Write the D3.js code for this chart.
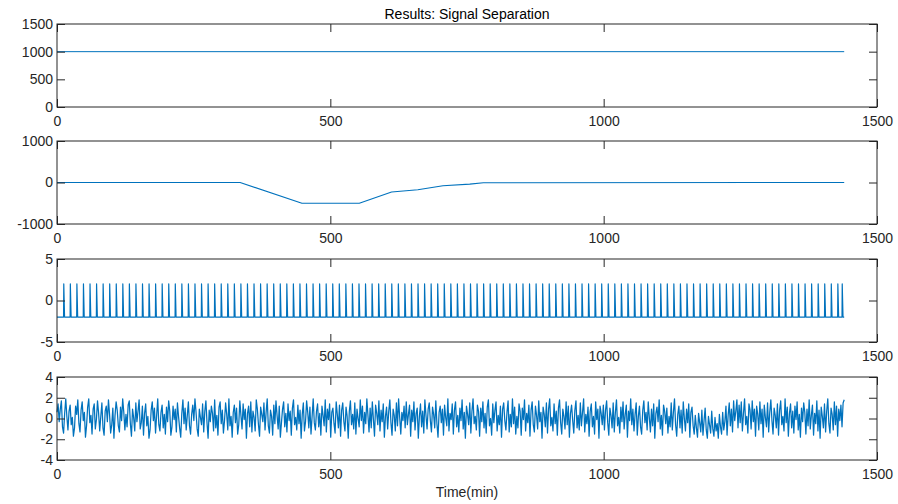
<!DOCTYPE html>
<html>
<head>
<meta charset="utf-8">
<script src="https://cdn.jsdelivr.net/npm/d3@7"></script>
<style>
    body { margin: 0; background: #fff; }
    text { font-family: "Liberation Sans", Arial, sans-serif; }
</style>
</head>
<body>
<div id="chart"></div>
<script>
// page + panel layout
let W = 898, H = 504;
let left = 57, right = 877;
let panelTops = [24, 141, 259, 377];
let panelH = 83;

let lineBlue = "#0072BD";
let axisGray = "#262626";
let lineWidths = [1, 1.1, 1.2, 1.25];

// x axis (shared by all panels)
let xDomain = [0, 1500];
let xTicks = [0, 500, 1000, 1500];

// y axes for each panel
let yDomains = [[0, 1500], [-1000, 1000], [-5, 5], [-4, 4]];
let yTicks = [[0, 500, 1000, 1500], [-1000, 0, 1000], [-5, 0, 5], [-4, -2, 0, 2, 4]];

// panel 1: flat signal
let flatTime = [0, 1440];
let flatValue = [1000, 1000];

// panel 2: drift / trend signal (breakpoints)
let trendTime = [0, 335, 448, 553, 612, 660, 706, 755, 780, 1440];
let trendValue = [0, 0, -500, -500, -229, -175, -80, -40, -5, 0];

// panel 3: periodic pulses between low and high level
let pulseLow = -2, pulseHigh = 2;
let pulseTimes = [12, 24, 36, 48, 60, 72, 84, 96, 108, 120, 132, 144, 156, 168, 180, 192, 204, 216, 228, 240,
    252, 264, 276, 288, 300, 312, 324, 336, 348, 360, 372, 384, 396, 408, 420, 432, 444, 456, 468, 480,
    492, 504, 516, 528, 540, 552, 564, 576, 588, 600, 612, 624, 636, 648, 660, 672, 684, 696, 708, 720,
    732, 744, 756, 768, 780, 792, 804, 816, 828, 840, 852, 864, 876, 888, 900, 912, 924, 936, 948, 960,
    972, 984, 996, 1008, 1020, 1032, 1044, 1056, 1068, 1080, 1092, 1104, 1116, 1128, 1140, 1152, 1164, 1176, 1188, 1200,
    1212, 1224, 1236, 1248, 1260, 1272, 1284, 1296, 1308, 1320, 1332, 1344, 1356, 1368, 1380, 1392, 1404, 1416, 1428, 1436];

// panel 4: noise, one value every ~2 min (0 .. 1440)
let noiseValue = [
    0.6,1.4,-0.3,0.9,1.7,-0.8,-1.4,0.5,1.9,0.2,-1.1,0.7,1.3,-0.6,0.1,-1.7,-0.9,1.2,0.4,1.8,
    -0.5,-1.3,0.8,1.6,-0.2,0.6,-1.8,-0.7,1.1,1.9,-0.4,0.3,-1.5,0.9,1.4,-1.0,-0.1,1.7,0.5,-1.2,
    0.2,1.5,-0.9,-1.6,0.7,1.2,-0.3,1.8,0.4,-1.4,-0.6,1.0,-1.9,0.3,1.6,0.8,-0.7,-1.3,1.1,-0.2,
    1.9,0.6,-1.1,0.4,-0.8,1.3,1.7,-0.5,-1.7,0.9,0.1,-1.2,1.5,-0.3,0.7,1.8,-1.0,-0.4,1.2,-1.6,
    0.5,1.4,-0.7,0.2,-1.9,-1.1,0.8,1.6,-0.2,1.0,-1.4,0.3,1.9,-0.6,-1.2,0.6,1.3,-0.9,0.4,-1.5,
    1.1,-0.3,1.7,0.7,-1.6,-0.8,1.2,-0.1,0.9,-1.3,1.5,0.2,-0.9,-1.8,0.5,1.8,-0.5,1.0,-1.1,0.3,
    1.6,-0.7,-1.5,0.4,1.3,-0.2,1.9,0.6,-1.0,-1.7,0.9,0.1,-0.6,1.4,-1.3,0.7,1.7,-0.4,-1.9,0.8,
    -0.3,1.2,0.5,-1.2,1.8,-0.9,0.3,-1.6,1.1,1.6,-0.5,0.8,-1.4,-0.2,1.5,0.4,-1.1,1.9,-0.7,0.2,
    -1.8,0.6,1.3,-0.4,1.0,-1.5,-0.6,1.7,0.3,-1.0,1.4,-0.1,0.9,-1.9,0.5,1.2,-0.8,1.6,-1.3,0.7,
    0.1,-1.2,1.8,0.9,-0.6,-1.7,1.1,0.4,-0.3,1.5,-1.1,0.6,1.9,-0.7,-1.4,0.8,0.2,-1.6,1.3,-0.5,
    1.7,0.3,-1.0,1.2,-1.8,-0.4,0.9,1.6,-0.8,0.5,-1.3,1.4,-0.2,0.7,-1.6,1.0,1.8,-0.6,0.1,-1.1,
    1.3,-0.5,0.8,-1.9,0.4,1.5,-1.2,-0.3,1.7,0.6,-0.9,1.1,-1.5,0.2,1.9,-0.4,-1.1,0.7,1.4,-0.8,
    0.5,-1.6,1.2,0.3,-0.7,1.8,-1.3,0.9,-0.1,1.4,-1.8,0.6,1.0,-0.5,-1.4,1.6,0.4,-0.9,1.3,-1.7,
    0.8,1.5,-0.3,-1.2,1.1,0.2,-1.9,0.7,1.7,-0.6,0.4,-1.0,1.5,-1.5,0.9,0.0,-0.8,1.8,-0.2,1.2,
    -1.4,0.6,-0.5,1.9,0.3,-1.3,1.0,-0.9,1.6,-0.1,-1.7,1.3,0.5,-0.6,1.7,-1.2,0.8,-0.3,1.4,-1.8,
    0.2,1.1,-1.0,0.7,1.8,-0.4,-1.6,0.9,0.3,-1.2,1.5,-0.7,1.9,0.1,-1.5,0.6,-0.2,1.2,-0.9,1.6,
    -0.6,0.4,1.3,-1.7,0.8,-0.3,1.6,-1.1,0.5,1.0,-1.9,0.2,1.4,-0.8,0.7,-1.4,1.8,0.3,-1.0,0.9,
    1.5,-0.2,-1.3,1.1,0.4,-0.9,1.7,-0.5,-1.8,0.6,1.2,-0.4,0.9,-1.6,1.3,0.1,-0.7,1.9,-1.2,0.5,
    -0.1,1.4,-1.5,0.8,1.6,-0.8,0.3,-1.3,1.0,-0.2,1.8,-1.0,0.6,-1.9,1.2,0.4,-0.6,1.5,-1.4,0.7,
    1.9,-0.5,0.2,-1.1,1.3,0.7,-1.7,1.0,-0.3,1.6,-0.9,0.5,-1.4,1.1,1.8,-0.7,0.0,-1.6,1.4,-0.4,
    0.8,1.6,-1.2,0.3,-0.6,1.2,-1.8,0.9,1.5,-0.2,-1.1,0.6,1.7,-1.3,0.4,-0.8,1.9,-0.5,1.1,-1.5,
    0.2,-0.9,1.4,0.7,-1.6,1.0,-0.1,1.8,-1.2,0.5,-0.4,1.3,-1.7,0.8,1.6,-0.6,-1.3,1.2,0.3,-1.0,
    1.7,-0.3,0.6,-1.9,1.1,0.4,-0.8,1.5,-1.4,0.9,1.9,-0.7,0.1,-1.2,1.4,-0.5,0.7,-1.6,1.0,1.8,
    -0.4,-1.5,0.9,0.2,-1.0,1.6,-0.6,1.2,-1.8,0.5,1.3,-0.2,-1.4,0.8,1.7,-0.9,0.3,-1.1,1.5,-0.7,
    0.6,1.9,-1.3,0.4,-0.5,1.1,-1.7,0.7,1.4,-0.8,0.2,-1.5,1.6,-0.1,0.9,-1.9,1.2,0.5,-0.6,1.3,
    -1.1,0.8,1.7,-0.4,-1.6,1.0,0.3,-0.9,1.5,-1.3,0.6,1.8,-0.7,0.1,-1.4,1.1,-0.3,1.6,-1.0,0.4,
    1.3,-1.8,0.7,-0.2,1.9,-0.6,0.9,-1.2,0.4,1.5,-1.6,0.2,1.2,-0.8,-1.5,0.8,1.7,-0.4,0.6,-1.1,
    1.6,0.1,-1.3,0.9,-0.7,1.4,-1.9,0.5,1.1,-0.3,1.8,-1.0,0.3,-1.6,1.3,0.7,-0.5,1.0,-1.4,0.2,
    -0.8,1.5,-1.1,0.6,1.9,-0.6,-1.7,0.4,1.2,-0.9,0.8,-1.4,1.6,0.0,-1.2,0.9,-0.4,1.4,-1.8,0.6,
    1.1,-0.7,-1.5,0.3,-0.9,-1.8,0.5,-0.4,-1.3,0.8,-1.6,-0.2,1.0,-1.1,-1.9,0.2,-0.6,-1.4,0.7,-1.0,
    -1.7,0.1,-1.2,-0.5,-1.9,0.4,-0.8,-1.5,0.6,-1.1,-0.3,1.2,-1.6,0.3,1.5,-0.7,0.9,-1.3,1.7,-0.2,
    0.7,1.8,-0.9,1.3,-0.4,1.6,-1.2,0.5,1.9,-0.6,0.2,-1.4,1.4,0.8,-1.0,1.7,-0.3,0.9,-1.7,1.2,
    0.4,-1.1,1.6,-0.5,0.9,-1.8,1.3,0.1,-0.8,1.5,-1.3,0.6,1.8,-0.2,-1.5,1.0,0.3,-0.9,1.4,-1.6,
    0.8,1.7,-0.6,0.2,-1.2,1.9,-0.4,1.1,-1.7,0.5,1.4,-0.9,0.7,-1.4,1.2,-0.1,1.6,-1.1,0.4,-1.8,
    1.0,-0.3,1.5,0.6,-1.5,0.9,-0.7,1.8,-1.0,0.3,1.3,-1.6,0.5,-0.5,1.7,-1.2,0.8,-1.9,1.1,0.2,
    -0.9,1.4,-1.3,0.7,1.9,-0.5,-1.4,1.0,0.4,-1.1,1.6,-0.6,1.2,-1.7,0.9,-0.2,1.3,-0.8,1.5,1.8
];
let noiseEnd = 1440;

let titleText = "Results: Signal Separation";
let xLabel = "Time(min)";

let svg = d3.select("#chart")
    .append("svg")
    .attr("width", W)
    .attr("height", H);

let xScale = d3.scaleLinear().domain(xDomain).range([left, right]);

// plain number labels (no thousands comma, ascii minus)
let plainFmt = d => String(d);

// build the point lists for each panel
let flatData = flatTime.map((t, i) => ({t: t, v: flatValue[i]}));
let trendData = trendTime.map((t, i) => ({t: t, v: trendValue[i]}));

let pulseData = [{t: 0, v: pulseLow}];
pulseTimes.forEach(t => {
    pulseData.push({t: t, v: pulseLow});
    pulseData.push({t: t + 0.4, v: pulseHigh});
    pulseData.push({t: t + 1.8, v: pulseLow});
});
pulseData.push({t: 1440, v: pulseLow});

let noiseStep = noiseEnd / (noiseValue.length - 1);
let noiseData = noiseValue.map((v, i) => ({t: i * noiseStep, v: v}));

let panelData = [flatData, trendData, pulseData, noiseData];

panelData.forEach((data, p) => drawPanel(p, data));

function drawPanel(p, data) {
    let top = panelTops[p], bottom = top + panelH;
    let yScale = d3.scaleLinear().domain(yDomains[p]).range([bottom, top]);
    let tickLen = 8;

    // signal line
    svg.append("path")
        .datum(data)
        .attr("fill", "none")
        .attr("stroke", lineBlue)
        .attr("stroke-width", lineWidths[p])
        .attr("stroke-linejoin", "round")
        .attr("d", d3.line()
            .x(d => xScale(d.t))
            .y(d => yScale(d.v)));

    // left axis with labels, ticks pointing inward
    let gl = svg.append("g")
        .attr("transform", "translate(" + left + ",0)")
        .call(d3.axisLeft(yScale).tickValues(yTicks[p]).tickFormat(plainFmt)
            .tickSizeInner(-tickLen).tickSizeOuter(0).tickPadding(4));
    // right axis, ticks only
    let gr = svg.append("g")
        .attr("transform", "translate(" + right + ",0)")
        .call(d3.axisRight(yScale).tickValues(yTicks[p]).tickSizeInner(-tickLen).tickSizeOuter(0).tickFormat(""));
    // bottom axis with labels
    let gb = svg.append("g")
        .attr("transform", "translate(0," + bottom + ")")
        .call(d3.axisBottom(xScale).tickValues(xTicks).tickFormat(plainFmt)
            .tickSizeInner(-tickLen).tickSizeOuter(0).tickPadding(9));
    // top axis, ticks only
    let gt = svg.append("g")
        .attr("transform", "translate(0," + top + ")")
        .call(d3.axisTop(xScale).tickValues(xTicks).tickSizeInner(-tickLen).tickSizeOuter(0).tickFormat(""));

    [gl, gr, gb, gt].forEach(g => {
        g.select(".domain").remove();
        g.selectAll("line").attr("stroke", axisGray);
        g.selectAll("text")
            .attr("fill", axisGray)
            .style("font-size", "14px")
            .style("font-family", "'Liberation Sans', Arial, sans-serif");
    });

    // box
    svg.append("rect")
        .attr("x", left)
        .attr("y", top)
        .attr("width", right - left)
        .attr("height", panelH)
        .attr("fill", "none")
        .attr("stroke", axisGray)
        .attr("stroke-width", 1);
}

// title and x label
svg.append("text")
    .attr("x", (left + right) / 2)
    .attr("y", 19)
    .attr("text-anchor", "middle")
    .attr("fill", "#000")
    .style("font-size", "14px")
    .text(titleText);

svg.append("text")
    .attr("x", (left + right) / 2)
    .attr("y", 497)
    .attr("text-anchor", "middle")
    .attr("fill", axisGray)
    .style("font-size", "14px")
    .text(xLabel);
</script>
</body>
</html>
